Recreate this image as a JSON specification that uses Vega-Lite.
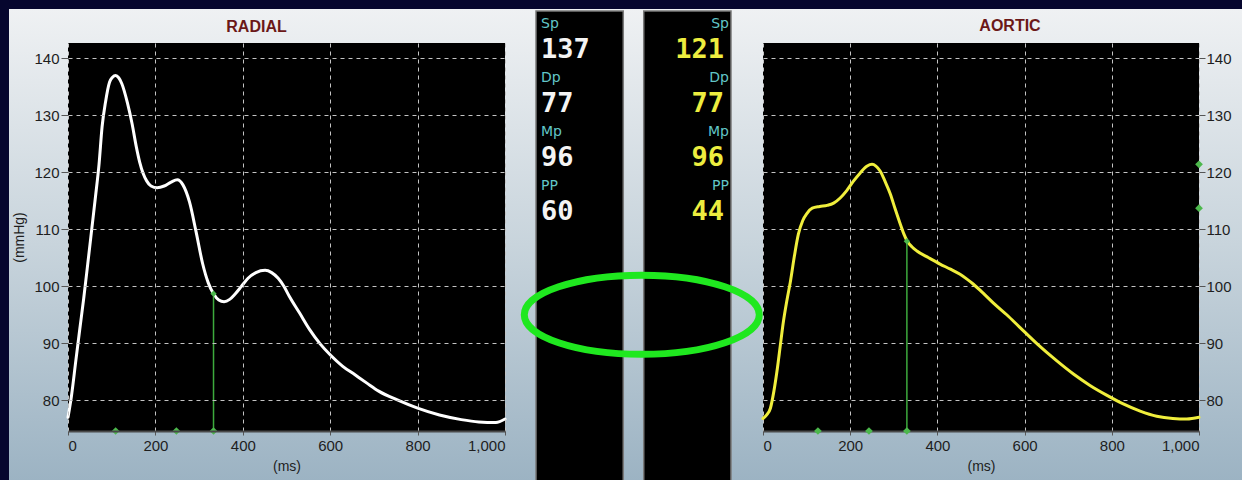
{
  "$schema": "https://vega.github.io/schema/vega-lite/v6.json",
  "background": "#06062e",
  "padding": {"left": 9, "top": 8, "right": 0, "bottom": 0},
  "spacing": 20,
  "bounds": "flush",
  "datasets": {
    "radial": [
      {"t": 0, "p": 77.0}, {"t": 8, "p": 80.8}, {"t": 18, "p": 87.0}, {"t": 27, "p": 92.5}, {"t": 36, "p": 97.9},
      {"t": 45, "p": 103.8}, {"t": 54, "p": 109.8}, {"t": 63, "p": 115.8}, {"t": 71, "p": 121.4}, {"t": 78, "p": 128.0},
      {"t": 86, "p": 132.4}, {"t": 95, "p": 135.8}, {"t": 102, "p": 136.7}, {"t": 109, "p": 137.0}, {"t": 116, "p": 136.6},
      {"t": 123, "p": 135.6}, {"t": 136, "p": 132.2}, {"t": 147, "p": 128.4}, {"t": 156, "p": 124.6}, {"t": 164, "p": 121.8},
      {"t": 172, "p": 119.8}, {"t": 180, "p": 118.5}, {"t": 190, "p": 117.6}, {"t": 204, "p": 117.3}, {"t": 220, "p": 117.6},
      {"t": 236, "p": 118.3}, {"t": 250, "p": 118.7}, {"t": 263, "p": 117.8}, {"t": 278, "p": 114.8}, {"t": 293, "p": 109.6},
      {"t": 308, "p": 104.0}, {"t": 321, "p": 100.6}, {"t": 333, "p": 98.7}, {"t": 345, "p": 97.6}, {"t": 357, "p": 97.3},
      {"t": 370, "p": 97.7}, {"t": 382, "p": 98.6}, {"t": 397, "p": 100.0}, {"t": 412, "p": 101.4}, {"t": 430, "p": 102.4},
      {"t": 451, "p": 102.8}, {"t": 466, "p": 102.4}, {"t": 481, "p": 101.4}, {"t": 494, "p": 100.0}, {"t": 506, "p": 98.3},
      {"t": 530, "p": 95.3}, {"t": 553, "p": 92.4}, {"t": 577, "p": 89.9}, {"t": 601, "p": 87.9}, {"t": 628, "p": 86.0},
      {"t": 656, "p": 84.5}, {"t": 684, "p": 83.0}, {"t": 711, "p": 81.6}, {"t": 755, "p": 80.0}, {"t": 800, "p": 78.6},
      {"t": 850, "p": 77.4}, {"t": 900, "p": 76.6}, {"t": 940, "p": 76.2}, {"t": 979, "p": 76.1}, {"t": 1000, "p": 76.7}
    ],
    "aortic": [
      {"t": 0, "p": 76.8}, {"t": 8, "p": 77.4}, {"t": 17, "p": 78.6}, {"t": 25, "p": 81.6}, {"t": 33, "p": 85.6},
      {"t": 40, "p": 89.8}, {"t": 47, "p": 93.9}, {"t": 55, "p": 97.6}, {"t": 63, "p": 100.9}, {"t": 72, "p": 105.3},
      {"t": 81, "p": 109.1}, {"t": 91, "p": 111.5}, {"t": 101, "p": 112.8}, {"t": 113, "p": 113.7}, {"t": 130, "p": 114.0},
      {"t": 147, "p": 114.2}, {"t": 162, "p": 114.6}, {"t": 177, "p": 115.5}, {"t": 192, "p": 116.8}, {"t": 207, "p": 118.4},
      {"t": 223, "p": 119.9}, {"t": 239, "p": 121.1}, {"t": 250, "p": 121.4}, {"t": 259, "p": 121.1}, {"t": 269, "p": 120.2},
      {"t": 280, "p": 118.4}, {"t": 292, "p": 116.2}, {"t": 303, "p": 113.6}, {"t": 315, "p": 110.9}, {"t": 323, "p": 109.2},
      {"t": 331, "p": 107.9}, {"t": 342, "p": 106.9}, {"t": 353, "p": 106.2}, {"t": 380, "p": 105.0}, {"t": 406, "p": 103.9},
      {"t": 430, "p": 103.0}, {"t": 452, "p": 102.1}, {"t": 467, "p": 101.3}, {"t": 482, "p": 100.4}, {"t": 505, "p": 98.8},
      {"t": 528, "p": 97.1}, {"t": 559, "p": 95.0}, {"t": 589, "p": 92.8}, {"t": 630, "p": 89.8}, {"t": 674, "p": 86.9},
      {"t": 712, "p": 84.6}, {"t": 750, "p": 82.6}, {"t": 788, "p": 80.9}, {"t": 825, "p": 79.4}, {"t": 865, "p": 78.1},
      {"t": 903, "p": 77.2}, {"t": 940, "p": 76.8}, {"t": 972, "p": 76.7}, {"t": 1000, "p": 77.0}
    ],
    "stats": [
      {"side": "RADIAL", "param": "Sp", "value": 137}, {"side": "RADIAL", "param": "Dp", "value": 77},
      {"side": "RADIAL", "param": "Mp", "value": 96}, {"side": "RADIAL", "param": "PP", "value": 60},
      {"side": "AORTIC", "param": "Sp", "value": 121}, {"side": "AORTIC", "param": "Dp", "value": 77},
      {"side": "AORTIC", "param": "Mp", "value": 96}, {"side": "AORTIC", "param": "PP", "value": 44}
    ],
    "cursor": [
      {"chart": "RADIAL", "t": 333, "p": 98.7},
      {"chart": "AORTIC", "t": 330, "p": 107.9}
    ],
    "markers": [
      {"chart": "RADIAL", "t": 109}, {"chart": "RADIAL", "t": 248}, {"chart": "RADIAL", "t": 333},
      {"chart": "AORTIC", "t": 126}, {"chart": "AORTIC", "t": 243}, {"chart": "AORTIC", "t": 330}
    ],
    "levels": [
      {"chart": "AORTIC", "p": 121.4}, {"chart": "AORTIC", "p": 113.7}
    ]
  },
  "config": {
    "view": {"stroke": null},
    "axis": {
      "labelFont": "Liberation Sans", "labelFontSize": 15, "labelColor": "#1e1e1e",
      "titleFont": "Liberation Sans", "titleFontSize": 14, "titleFontWeight": "normal", "titleColor": "#1e1e1e",
      "tickColor": "#555555", "gridColor": "#c4c4c4", "gridDash": [4, 4], "gridOpacity": 1, "domain": false
    },
    "title": {"font": "Liberation Sans", "fontSize": 16, "fontWeight": "bold", "color": "#6b1818", "frame": "group"}
  },
  "hconcat": [
    {
      "width": 437,
      "height": 388,
      "title": {"text": "RADIAL", "dx": -30, "offset": -26},
      "layer": [
        {
          "data": {"values": [{"panel": "left"}]},
          "mark": {"type": "rect", "strokeWidth": 0,
            "fill": {"gradient": "linear", "x1": 0, "y1": 0, "x2": 0, "y2": 1,
              "stops": [{"offset": 0, "color": "#eff1f3"}, {"offset": 0.5, "color": "#c8d4dc"}, {"offset": 1, "color": "#9cb3c3"}]}},
          "encoding": {
            "x": {"datum": -135, "type": "quantitative", "scale": {"domain": [0, 1000], "nice": false, "zero": false},
              "axis": {"values": [0, 200, 400, 600, 800, 1000], "format": ",d", "title": "(ms)", "tickSize": 4, "labelPadding": 3,
                "titlePadding": 6, "domain": true, "domainColor": "#4a4a4a", "domainWidth": 2, "grid": true, "zindex": 1}},
            "x2": {"datum": 2686.5},
            "y": {"datum": 148.67, "type": "quantitative", "scale": {"domain": [74.6, 142.7], "nice": false, "zero": false},
              "axis": {"values": [80, 90, 100, 110, 120, 130, 140], "title": "(mmHg)", "tickSize": 7, "labelPadding": 2,
                "titlePadding": 7, "grid": true, "zindex": 1}},
            "y2": {"datum": 65.83}
          }
        },
        {
          "data": {"values": [{"panel": "plot"}]},
          "mark": {"type": "rect", "color": "#000000"},
          "encoding": {
            "x": {"datum": 0, "type": "quantitative"}, "x2": {"datum": 1000},
            "y": {"datum": 74.6, "type": "quantitative"}, "y2": {"datum": 142.7}
          }
        },
        {
          "data": {"name": "radial"},
          "mark": {"type": "line", "color": "#ffffff", "strokeWidth": 3, "interpolate": "monotone", "strokeCap": "round"},
          "encoding": {"x": {"field": "t", "type": "quantitative"}, "y": {"field": "p", "type": "quantitative"}}
        },
        {
          "data": {"name": "cursor"},
          "transform": [{"filter": "datum.chart == 'RADIAL'"}],
          "mark": {"type": "rule", "color": "#3daa3d", "strokeWidth": 1.5},
          "encoding": {"x": {"field": "t", "type": "quantitative"}, "y": {"field": "p", "type": "quantitative"}, "y2": {"datum": 74.6}}
        },
        {
          "data": {"name": "cursor"},
          "transform": [{"filter": "datum.chart == 'RADIAL'"}],
          "mark": {"type": "point", "shape": "diamond", "filled": true, "color": "#4cb84c", "size": 40, "opacity": 1},
          "encoding": {"x": {"field": "t", "type": "quantitative"}, "y": {"field": "p", "type": "quantitative"}}
        },
        {
          "data": {"name": "markers"},
          "transform": [{"filter": "datum.chart == 'RADIAL'"}],
          "mark": {"type": "point", "shape": "diamond", "filled": true, "color": "#4cb84c", "size": 60, "opacity": 1},
          "encoding": {"x": {"field": "t", "type": "quantitative"}, "y": {"datum": 74.6, "type": "quantitative"}}
        }
      ]
    },
    {
      "width": 218,
      "height": 388,
      "data": {"name": "stats"},
      "layer": [
        {
          "transform": [{"filter": "datum.param == 'Sp'"}],
          "mark": {"type": "bar", "color": "#000000", "stroke": "#7a7a7a", "strokeWidth": 1.5},
          "encoding": {
            "x": {"field": "side", "type": "nominal",
              "scale": {"domain": ["RADIAL", "AORTIC"], "range": [11, 206], "paddingInner": 0.19, "paddingOuter": 0}, "axis": null},
            "y": {"datum": 148.32, "type": "quantitative", "scale": {"domain": [74.6, 142.7], "nice": false, "zero": false}, "axis": null},
            "y2": {"datum": 65.83}
          }
        },
        {
          "transform": [{"filter": "datum.side == 'RADIAL'"}],
          "mark": {"type": "text", "align": "left", "baseline": "middle", "dx": 5, "dy": -12.7, "font": "DejaVu Sans", "fontSize": 14, "color": "#62c6c8"},
          "encoding": {
            "x": {"field": "side", "type": "nominal", "bandPosition": 0},
            "y": {"field": "param", "type": "nominal", "scale": {"type": "point", "domain": ["Sp", "Dp", "Mp", "PP"], "range": [-6.2, 155.8], "padding": 0}, "axis": null},
            "text": {"field": "param"}
          }
        },
        {
          "transform": [{"filter": "datum.side == 'RADIAL'"}],
          "mark": {"type": "text", "align": "left", "baseline": "middle", "dx": 5, "dy": 12.7, "font": "DejaVu Sans Mono", "fontSize": 27, "fontWeight": "bold", "color": "#f4f4f4"},
          "encoding": {
            "x": {"field": "side", "type": "nominal", "bandPosition": 0},
            "y": {"field": "param", "type": "nominal", "scale": {"type": "point", "domain": ["Sp", "Dp", "Mp", "PP"], "range": [-6.2, 155.8], "padding": 0}, "axis": null},
            "text": {"field": "value"}
          }
        },
        {
          "transform": [{"filter": "datum.side == 'AORTIC'"}],
          "mark": {"type": "text", "align": "right", "baseline": "middle", "dx": -2, "dy": -12.7, "font": "DejaVu Sans", "fontSize": 14, "color": "#62c6c8"},
          "encoding": {
            "x": {"field": "side", "type": "nominal", "bandPosition": 1},
            "y": {"field": "param", "type": "nominal", "scale": {"type": "point", "domain": ["Sp", "Dp", "Mp", "PP"], "range": [-6.2, 155.8], "padding": 0}, "axis": null},
            "text": {"field": "param"}
          }
        },
        {
          "transform": [{"filter": "datum.side == 'AORTIC'"}],
          "mark": {"type": "text", "align": "right", "baseline": "middle", "dx": -7, "dy": 12.7, "font": "DejaVu Sans Mono", "fontSize": 27, "fontWeight": "bold", "color": "#eded3f"},
          "encoding": {
            "x": {"field": "side", "type": "nominal", "bandPosition": 1},
            "y": {"field": "param", "type": "nominal", "scale": {"type": "point", "domain": ["Sp", "Dp", "Mp", "PP"], "range": [-6.2, 155.8], "padding": 0}, "axis": null},
            "text": {"field": "value"}
          }
        }
      ],
      "resolve": {"scale": {"y": "independent"}}
    },
    {
      "width": 436,
      "height": 388,
      "view": {"fill": "#000000", "stroke": null},
      "title": {"text": "AORTIC", "dx": 29, "offset": 9},
      "layer": [
        {
          "data": {"name": "aortic"},
          "mark": {"type": "line", "color": "#f0ee3c", "strokeWidth": 3, "interpolate": "monotone", "strokeCap": "round"},
          "encoding": {
            "x": {"field": "t", "type": "quantitative", "scale": {"domain": [0, 1000], "nice": false, "zero": false},
              "axis": {"values": [0, 200, 400, 600, 800, 1000], "format": ",d", "title": "(ms)", "tickSize": 4, "labelPadding": 3,
                "titlePadding": 6, "domain": true, "domainColor": "#4a4a4a", "domainWidth": 2, "grid": true}},
            "y": {"field": "p", "type": "quantitative", "scale": {"domain": [74.6, 142.7], "nice": false, "zero": false},
              "axis": {"orient": "right", "values": [80, 90, 100, 110, 120, 130, 140], "title": null, "tickSize": 6, "labelPadding": 1, "grid": true}}
          }
        },
        {
          "data": {"name": "cursor"},
          "transform": [{"filter": "datum.chart == 'AORTIC'"}],
          "mark": {"type": "rule", "color": "#3daa3d", "strokeWidth": 1.5},
          "encoding": {"x": {"field": "t", "type": "quantitative"}, "y": {"field": "p", "type": "quantitative"}, "y2": {"datum": 74.6}}
        },
        {
          "data": {"name": "cursor"},
          "transform": [{"filter": "datum.chart == 'AORTIC'"}],
          "mark": {"type": "point", "shape": "diamond", "filled": true, "color": "#4cb84c", "size": 40, "opacity": 1},
          "encoding": {"x": {"field": "t", "type": "quantitative"}, "y": {"field": "p", "type": "quantitative"}}
        },
        {
          "data": {"name": "markers"},
          "transform": [{"filter": "datum.chart == 'AORTIC'"}],
          "mark": {"type": "point", "shape": "diamond", "filled": true, "color": "#4cb84c", "size": 60, "opacity": 1},
          "encoding": {"x": {"field": "t", "type": "quantitative"}, "y": {"datum": 74.6, "type": "quantitative"}}
        },
        {
          "data": {"name": "levels"},
          "mark": {"type": "point", "shape": "diamond", "filled": true, "color": "#4cb84c", "size": 60, "opacity": 1},
          "encoding": {"x": {"datum": 1000, "type": "quantitative"}, "y": {"field": "p", "type": "quantitative"}}
        },
        {
          "data": {"values": [{"note": "highlight"}]},
          "mark": {"type": "point", "shape": "M -1 0 A 1 0.337 0 1 1 1 0 A 1 0.337 0 1 1 -1 0 Z", "size": 55225,
            "filled": false, "color": "#1fe81f", "strokeWidth": 7, "opacity": 1},
          "encoding": {"x": {"datum": -278, "type": "quantitative"}, "y": {"datum": 95.0, "type": "quantitative"}}
        }
      ]
    }
  ]
}
